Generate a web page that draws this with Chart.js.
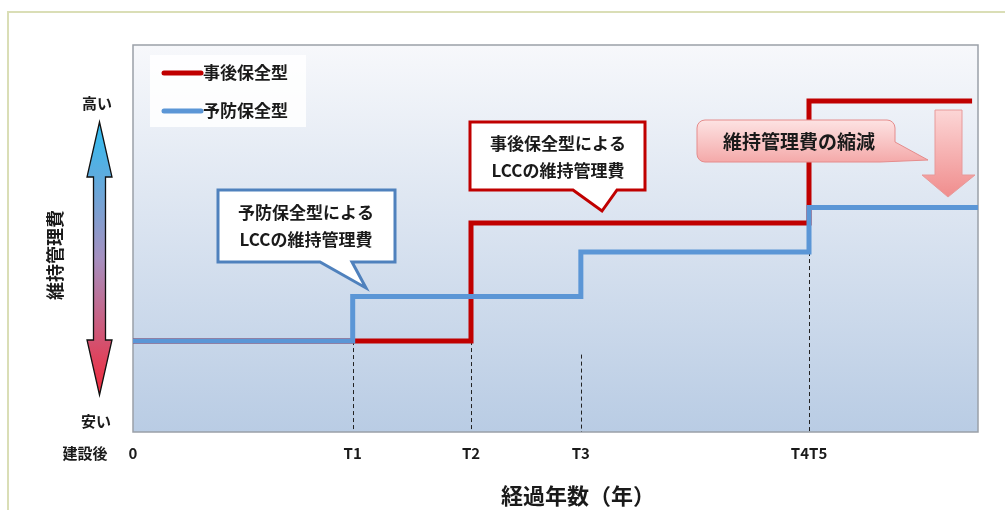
<!DOCTYPE html>
<html lang="ja">
<head>
<meta charset="utf-8">
<title>LCC 維持管理費</title>
<script src="https://cdn.jsdelivr.net/npm/chart.js@4.4.1/dist/chart.umd.min.js"></script>
<style>
  html, body { margin: 0; padding: 0; background: #ffffff; }
  .wrap { position: relative; width: 1005px; height: 510px; }
</style>
</head>
<body>
<div class="wrap"><canvas id="lccChart"></canvas></div>
<script>
// elapsed years (arbitrary 0-100 scale) and tick labels
const tickValues = [0, 26, 40, 53, 80];
const tickLabels = ['0', 'T1', 'T2', 'T3', 'T4T5'];

// 事後保全型 (corrective maintenance)
const correctiveX = [0, 40, 80, 99.3];
const correctiveY = [23.5, 54, 85.5, 85.5];

// 予防保全型 (preventive maintenance)
const preventiveX = [0, 26, 53, 80, 100];
const preventiveY = [23.5, 35, 46.5, 58, 58];

// dashed guide lines: top of each line (in cost units)
const guideTops = [23.5, 23.5, 20, 46.5];

const JP = '"Noto Sans CJK JP", "Noto Sans", sans-serif';
const RED = '#c00000';
const BLUE = '#5b96d6';

function toPoints(xs, ys) {
    return xs.map((x, i) => ({ x: x, y: ys[i] }));
}

// background gradient + plot frame + dashed guides
const backdropPlugin = {
    id: 'backdrop',
    beforeDraw(chart) {
        const ctx = chart.ctx;
        const a = chart.chartArea;
        ctx.save();
        // outer frame
        ctx.strokeStyle = '#dadeb6';
        ctx.lineWidth = 2;
        ctx.strokeRect(8, 12, 1010, 510);
        // plot background
        const g = ctx.createLinearGradient(0, a.top, 0, a.bottom);
        g.addColorStop(0, '#f7f8fb');
        g.addColorStop(1, '#b9cce4');
        ctx.fillStyle = g;
        ctx.fillRect(a.left, a.top, a.right - a.left, a.bottom - a.top);
        ctx.strokeStyle = '#9aa0a8';
        ctx.lineWidth = 1.5;
        ctx.strokeRect(a.left, a.top, a.right - a.left, a.bottom - a.top);
        ctx.restore();
    },
    beforeDatasetsDraw(chart) {
        const ctx = chart.ctx;
        const x = chart.scales.x, y = chart.scales.y;
        ctx.save();
        ctx.strokeStyle = '#222';
        ctx.lineWidth = 1;
        ctx.setLineDash([4, 3]);
        guideTops.forEach((top, i) => {
            const px = Math.round(x.getPixelForValue(tickValues[i + 1])) + 0.5;
            ctx.beginPath();
            ctx.moveTo(px, y.getPixelForValue(top));
            ctx.lineTo(px, y.getPixelForValue(0));
            ctx.stroke();
        });
        ctx.restore();
    }
};

// legend, callouts, left cost arrow and labels
const overlayPlugin = {
    id: 'overlay',
    afterDatasetsDraw(chart) {
        const ctx = chart.ctx;
        ctx.save();

        // legend box
        ctx.fillStyle = 'rgba(255,255,255,0.85)';
        ctx.fillRect(150, 55, 156, 72);
        ctx.font = 'bold 17px ' + JP;
        ctx.textBaseline = 'middle';
        chart.data.datasets.forEach((ds, i) => {
            const ly = 73 + i * 38;
            ctx.strokeStyle = ds.borderColor;
            ctx.lineWidth = 5;
            ctx.lineCap = 'round';
            ctx.beginPath();
            ctx.moveTo(164, ly);
            ctx.lineTo(201, ly);
            ctx.stroke();
            ctx.fillStyle = '#1a1a1a';
            ctx.textAlign = 'left';
            ctx.fillText(ds.label, 203, ly);
        });
        ctx.lineCap = 'butt';

        // callout: preventive
        ctx.beginPath();
        ctx.moveTo(218, 190); ctx.lineTo(395, 190); ctx.lineTo(395, 262);
        ctx.lineTo(352, 262); ctx.lineTo(366, 288); ctx.lineTo(320, 262);
        ctx.lineTo(218, 262); ctx.closePath();
        ctx.fillStyle = '#ffffff';
        ctx.fill();
        ctx.strokeStyle = '#4f81bd';
        ctx.lineWidth = 3;
        ctx.stroke();

        // callout: corrective
        ctx.beginPath();
        ctx.moveTo(470, 122); ctx.lineTo(645, 122); ctx.lineTo(645, 190);
        ctx.lineTo(617, 190); ctx.lineTo(602, 211); ctx.lineTo(573, 190);
        ctx.lineTo(470, 190); ctx.closePath();
        ctx.fillStyle = '#ffffff';
        ctx.fill();
        ctx.strokeStyle = RED;
        ctx.stroke();

        ctx.fillStyle = '#1a1a1a';
        ctx.textAlign = 'center';
        ctx.font = 'bold 17px ' + JP;
        ctx.fillText('予防保全型による', 306, 213);
        ctx.fillText('LCCの維持管理費', 306, 240);
        ctx.fillText('事後保全型による', 558, 144);
        ctx.fillText('LCCの維持管理費', 558, 171);

        // callout: reduction (pink, rounded)
        const r = 8;
        ctx.beginPath();
        ctx.moveTo(697 + r, 120);
        ctx.lineTo(895 - r, 120);
        ctx.arcTo(895, 120, 895, 120 + r, r);
        ctx.lineTo(895, 142);
        ctx.lineTo(928, 160);
        ctx.lineTo(880, 162);
        ctx.lineTo(697 + r, 162);
        ctx.arcTo(697, 162, 697, 162 - r, r);
        ctx.lineTo(697, 120 + r);
        ctx.arcTo(697, 120, 697 + r, 120, r);
        ctx.closePath();
        let pg = ctx.createLinearGradient(0, 120, 0, 162);
        pg.addColorStop(0, '#fde3e3');
        pg.addColorStop(1, '#f4a9a9');
        ctx.fillStyle = pg;
        ctx.fill();
        ctx.strokeStyle = '#e58c8c';
        ctx.lineWidth = 1;
        ctx.stroke();
        ctx.fillStyle = '#1a1a1a';
        ctx.font = 'bold 19px ' + JP;
        ctx.fillText('維持管理費の縮減', 799, 142);

        // pink down arrow
        ctx.beginPath();
        ctx.moveTo(935, 110); ctx.lineTo(962, 110); ctx.lineTo(962, 175);
        ctx.lineTo(975, 175); ctx.lineTo(948, 197); ctx.lineTo(922, 175);
        ctx.lineTo(935, 175); ctx.closePath();
        pg = ctx.createLinearGradient(0, 110, 0, 197);
        pg.addColorStop(0, '#fcd6d6');
        pg.addColorStop(1, '#f08d8d');
        ctx.fillStyle = pg;
        ctx.fill();
        ctx.strokeStyle = '#e79a9a';
        ctx.stroke();

        // left double arrow (cost high/low)
        const cx = 99.5;
        ctx.beginPath();
        ctx.moveTo(cx, 122);
        ctx.lineTo(cx + 12.5, 177); ctx.lineTo(cx + 6, 177);
        ctx.lineTo(cx + 6, 340); ctx.lineTo(cx + 12.5, 340);
        ctx.lineTo(cx, 395);
        ctx.lineTo(cx - 12.5, 340); ctx.lineTo(cx - 6, 340);
        ctx.lineTo(cx - 6, 177); ctx.lineTo(cx - 12.5, 177);
        ctx.closePath();
        const ag = ctx.createLinearGradient(0, 122, 0, 395);
        ag.addColorStop(0, '#2fbef2');
        ag.addColorStop(0.5, '#a690c0');
        ag.addColorStop(1, '#f2283a');
        ctx.fillStyle = ag;
        ctx.fill();
        ctx.strokeStyle = '#111';
        ctx.lineWidth = 1.3;
        ctx.stroke();

        ctx.fillStyle = '#1a1a1a';
        ctx.font = 'bold 15px ' + JP;
        ctx.fillText('高い', 97, 103);
        ctx.fillText('安い', 96, 421);
        ctx.fillText('建設後', 85, 453);

        // x axis title (sits right of the plot centre in the original)
        ctx.font = 'bold 22px ' + JP;
        ctx.fillText('経過年数（年）', 578, 496);

        ctx.translate(55, 255);
        ctx.rotate(-Math.PI / 2);
        ctx.font = 'bold 18px ' + JP;
        ctx.fillText('維持管理費', 0, 0);
        ctx.restore();
    }
};

const ctx = document.getElementById('lccChart');

new Chart(ctx, {
    type: 'line',
    data: {
        datasets: [{
            label: '事後保全型',
            data: toPoints(correctiveX, correctiveY),
            borderColor: RED,
            borderWidth: 5,
            stepped: 'before',
            pointRadius: 0,
            order: 1
        },
        {
            label: '予防保全型',
            data: toPoints(preventiveX, preventiveY),
            borderColor: BLUE,
            borderWidth: 5,
            stepped: 'before',
            pointRadius: 0,
            order: 0
        }]
    },
    options: {
        responsive: true,
        maintainAspectRatio: false,
        animation: false,
        layout: { padding: { left: 133, top: 45, right: 27, bottom: 36 } },
        plugins: {
            legend: { display: false },
            tooltip: { enabled: false }
        },
        scales: {
            x: {
                type: 'linear',
                min: 0,
                max: 100,
                afterBuildTicks(axis) {
                    axis.ticks = tickValues.map(v => ({ value: v }));
                },
                ticks: {
                    autoSkip: false,
                    maxRotation: 0,
                    padding: 12,
                    color: '#1a1a1a',
                    font: { family: JP, size: 15, weight: 'bold' },
                    callback: v => tickLabels[tickValues.indexOf(v)]
                },
                grid: { display: false, drawTicks: false },
                border: { display: false },
                title: { display: false }
            },
            y: {
                display: false,
                min: 0,
                max: 100
            }
        }
    },
    plugins: [backdropPlugin, overlayPlugin]
});
</script>
</body>
</html>
